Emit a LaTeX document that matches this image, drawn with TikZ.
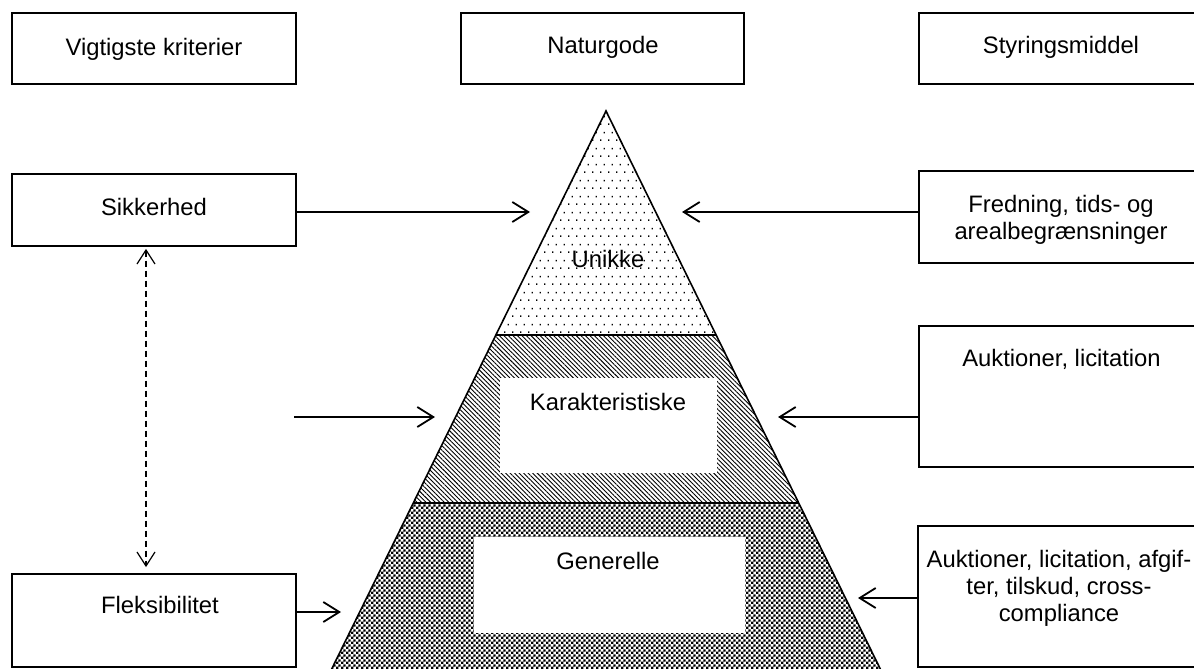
\documentclass[tikz,border=0pt]{standalone}
\usepackage{fontspec}
\setmainfont{Liberation Sans}
\usetikzlibrary{arrows.meta,patterns,patterns.meta,fit}

\pgfdeclarepatternformonly{unikdots}{\pgfqpoint{0pt}{0pt}}{\pgfqpoint{4pt}{8pt}}{\pgfqpoint{4pt}{8pt}}{%
  \pgfpathrectangle{\pgfqpoint{0pt}{0pt}}{\pgfqpoint{0.8pt}{0.8pt}}%
  \pgfpathrectangle{\pgfqpoint{2pt}{4pt}}{\pgfqpoint{0.8pt}{0.8pt}}%
  \pgfusepath{fill}}
\pgfdeclarepatternformonly{gendots}{\pgfqpoint{0pt}{0pt}}{\pgfqpoint{2.4pt}{2.4pt}}{\pgfqpoint{2.4pt}{2.4pt}}{%
  \pgfpathrectangle{\pgfqpoint{0pt}{0pt}}{\pgfqpoint{1.2pt}{1.2pt}}%
  \pgfpathrectangle{\pgfqpoint{1.2pt}{1.2pt}}{\pgfqpoint{1.2pt}{1.2pt}}%
  \pgfusepath{fill}}

\begin{document}
\begin{tikzpicture}[x=0.5pt,y=-0.5pt,
  box/.style={draw, line width=0.9pt, inner sep=0pt},
  wbox/.style={fill=white, inner sep=0pt},
  txt/.style={font=\fontsize{11.9}{13.5}\selectfont, inner sep=0pt, align=center},
  arr/.style={line width=0.9pt, -{Straight Barb[length=8pt,width=10pt,line width=0.9pt]}},
  darr/.style={line width=0.6pt, dash pattern=on 3pt off 2pt,
    {Straight Barb[length=7pt,width=9pt,line width=0.6pt]}-{Straight Barb[length=7pt,width=9pt,line width=0.6pt]}},
  pyr/.style={draw, line width=0.8pt}]
\useasboundingbox (0,0) rectangle (1194,669);
\clip (0,0) rectangle (1194,669);

% pyramid
\path[pattern=unikdots] (606,111) -- (716.1,335) -- (495.9,335) -- cycle;
\path[pattern={Lines[angle=-45,distance=1.6pt,line width=0.45pt]}] (495.9,335) -- (716.1,335) -- (798.7,503) -- (413.3,503) -- cycle;
\path[pattern=gendots] (413.3,503) -- (798.7,503) -- (881.8,672) -- (330.2,672) -- cycle;
\node[wbox, fit={(500,378) (717,473)}] (karbox) {};
\node[wbox, fit={(474,537) (745,633)}] (genbox) {};
\draw[pyr] (330.2,672) -- (606,111) -- (881.8,672);
\draw[pyr] (495.9,335) -- (716.1,335);
\draw[pyr] (413.3,503) -- (798.7,503);

\node[txt, anchor=base] (unik) at (608,267) {Unikke};
\node[txt, anchor=base] (kar) at (608,410) {Karakteristiske};
\node[txt, anchor=base] (gen) at (608,569) {Generelle};

% boxes
\node[box, fit={(12,13) (296,84)}] (vk) {};
\node[box, fit={(461,13) (744,84)}] (ng) {};
\node[box, fit={(919,13) (1204,84)}] (sm) {};
\node[box, fit={(12,174) (296,246)}] (sik) {};
\node[box, fit={(12,574) (296,667)}] (flek) {};
\node[box, fit={(919,171) (1204,263)}] (fre) {};
\node[box, fit={(919,326) (1204,467)}] (auk) {};
\node[box, fit={(918,526) (1204,667)}] (aukb) {};

\node[txt, anchor=base] (vkt) at (154,55) {Vigtigste kriterier};
\node[txt, anchor=base] (ngt) at (603,54) {Naturgode};
\node[txt, anchor=base] (smt) at (1061,54) {Styringsmiddel};
\node[txt, anchor=base] (sikt) at (154,215) {Sikkerhed};
\node[txt, anchor=base] (flekt) at (160,613) {Fleksibilitet};
\node[txt] (fret) at (1061,220) {Fredning, tids- og\\arealbegrænsninger};
\node[txt, anchor=base] (aukt) at (1061.5,366) {Auktioner, licitation};
\node[txt] (aukbt) at (1059,588.5) {Auktioner, licitation, afgif-\\ter, tilskud, cross-\\compliance};

% connectors
\coordinate (t1) at (530,212);
\coordinate (t2) at (682,212);
\coordinate (m1) at (294,417);
\coordinate (t3) at (435,417);
\coordinate (t4) at (778,417);
\coordinate (t5) at (341,612);
\coordinate (t6) at (858,598);
\draw[arr] (sik.east |- t1) -- (t1);
\draw[arr] (fre.west |- t2) -- (t2);
\draw[arr] (m1) -- (t3);
\draw[arr] (auk.west |- t4) -- (t4);
\draw[arr] (flek.east |- t5) -- (t5);
\draw[arr] (aukb.west |- t6) -- (t6);
\draw[darr] ([yshift=-1pt]sik.south -| 146,0) -- ([yshift=3pt]flek.north -| 146,0);
\end{tikzpicture}
\end{document}
